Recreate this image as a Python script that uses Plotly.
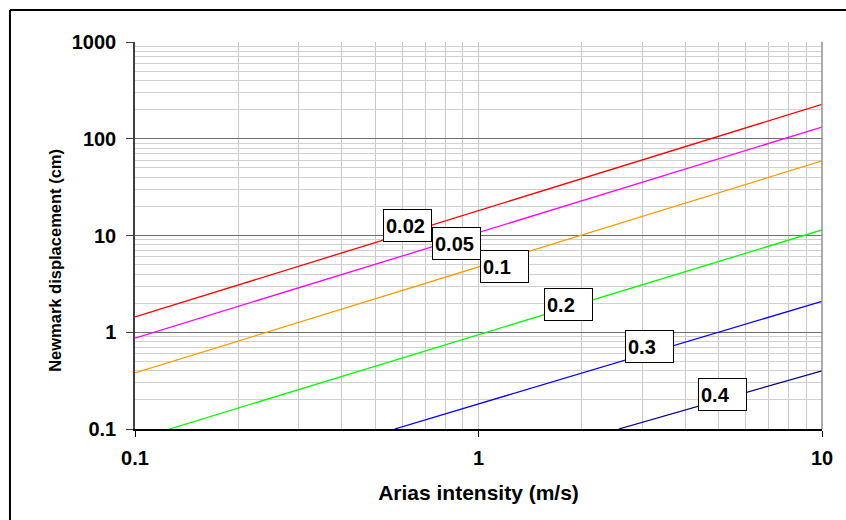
import numpy as np
import plotly.graph_objects as go

# critical acceleration ratio for each curve
ac_labels = ["0.02", "0.05", "0.1", "0.2", "0.3", "0.4"]
line_colors = ["#ff0000", "#ff00ff", "#ff9900", "#00ff00", "#0000ff", "#000080"]

# each curve is straight on log-log axes: start point and end point
ia_start = [0.1, 0.1, 0.1, 0.126, 0.57, 2.56]
disp_start = [1.44, 0.87, 0.38, 0.1, 0.1, 0.1]
ia_end = [10, 10, 10, 10, 10, 10]
disp_end = [227, 132, 59, 11.4, 2.09, 0.40]

# label box centres
label_ia = [0.62, 0.86, 1.19, 1.83, 3.15, 5.12]
label_disp = [12.8, 8.3, 4.8, 1.95, 0.72, 0.229]

x_tickvals = [0.1, 1, 10]
x_ticktext = ["0.1", "1", "10"]
y_tickvals = [0.1, 1, 10, 100, 1000]
y_ticktext = ["0.1", "1", "10", "100", "1000"]

font_family = "Liberation Sans, Arial, sans-serif"

fig = go.Figure()

for i, ac in enumerate(ac_labels):
    fig.add_trace(
        go.Scatter(
            x=[ia_start[i], ia_end[i]],
            y=[disp_start[i], disp_end[i]],
            mode="lines",
            name=ac,
            line={"color": line_colors[i], "width": 1.3},
            hovertemplate=f"ac={ac}<br>Ia: %{{x}}<br>Dn: %{{y}}<extra></extra>",
        )
    )
    fig.add_annotation(
        x=np.log10(label_ia[i]),
        y=np.log10(label_disp[i]),
        xref="x",
        yref="y",
        text=ac,
        showarrow=False,
        align="left",
        width=43,
        height=27,
        borderpad=2,
        bgcolor="white",
        bordercolor="black",
        borderwidth=1,
        font={"family": font_family, "size": 20, "color": "black", "weight": "bold"},
    )

# y title sits a little below the plot centre in the original
fig.add_annotation(
    x=-0.1325, y=0.437, xref="paper", yref="paper",
    text="Newmark displacement (cm)", textangle=-90, showarrow=False,
    font={"family": font_family, "size": 16.5, "color": "black", "weight": "bold"},
)

# right edge of the plot area
fig.add_shape(type="line", xref="x domain", yref="y domain", x0=1, x1=1, y0=0, y1=1,
              line={"color": "#909090", "width": 1.5})
# outer frame (top and left only)
fig.add_shape(type="line", xref="paper", yref="paper", x0=-0.182, x1=1.04, y0=1.083, y1=1.083,
              line={"color": "black", "width": 2})
fig.add_shape(type="line", xref="paper", yref="paper", x0=-0.182, x1=-0.182, y0=1.083, y1=-0.3,
              line={"color": "black", "width": 2})

fig.update_layout(
    width=846,
    height=520,
    margin=dict(l=135, r=24, t=42, b=91),
    paper_bgcolor="white",
    plot_bgcolor="white",
    showlegend=False,
    font={"family": font_family, "color": "black"},
)

fig.update_xaxes(
    type="log",
    range=[-1, 1],
    tickvals=x_tickvals,
    ticktext=x_ticktext,
    tickfont={"size": 20, "weight": "bold"},
    ticks="outside",
    ticklen=6,
    tickcolor="black",
    ticklabelstandoff=4,
    showline=True,
    linecolor="black",
    linewidth=1.5,
    showgrid=True,
    gridcolor="#c8c8c8",
    gridwidth=1,
    minor=dict(showgrid=True, dtick="D1", gridcolor="#c8c8c8", gridwidth=1),
    zeroline=False,
    title=dict(text="Arias intensity (m/s)", font={"size": 21, "weight": "bold"}, standoff=18),
)
fig.update_yaxes(
    type="log",
    range=[-1, 3],
    tickvals=y_tickvals,
    ticktext=y_ticktext,
    tickfont={"size": 20, "weight": "bold"},
    ticks="outside",
    ticklen=7,
    tickcolor="#404040",
    ticklabelstandoff=6,
    showline=True,
    linecolor="#404040",
    linewidth=1.5,
    showgrid=True,
    gridcolor="#707070",
    gridwidth=1.3,
    minor=dict(showgrid=True, dtick="D1", gridcolor="#d0d0d0", gridwidth=1),
    zeroline=False,
)

fig.write_html(
    "out.html",
    config={"displayModeBar": False},
    post_script="document.body.style.margin='0';",
)
